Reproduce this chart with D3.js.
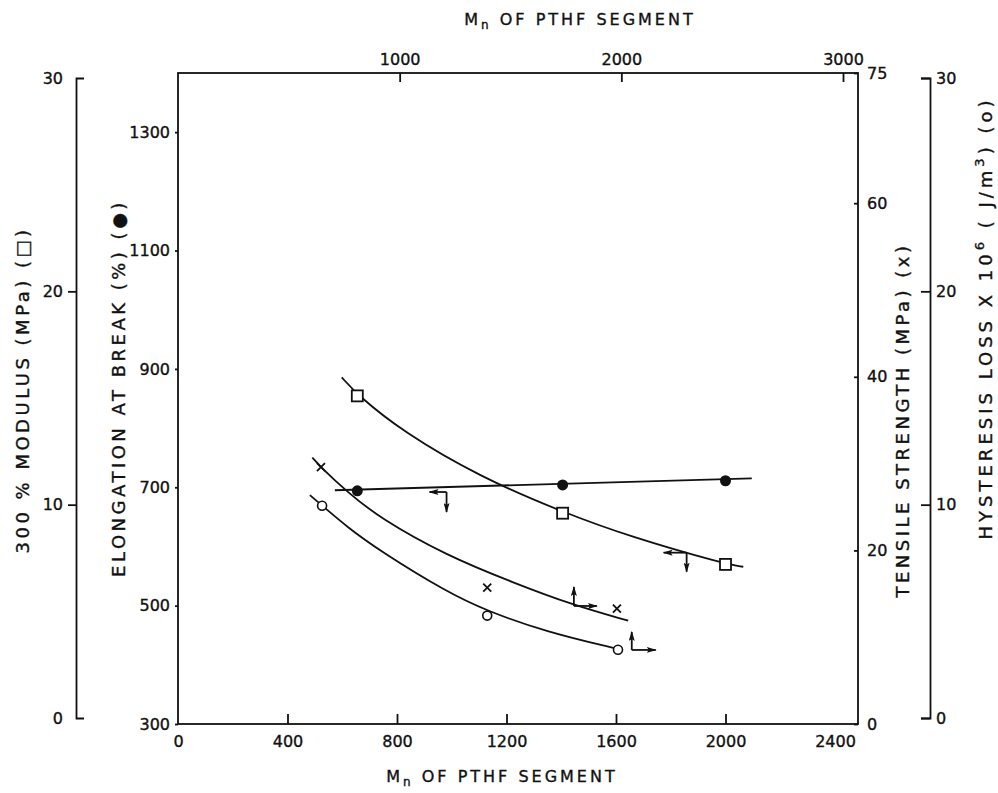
<!DOCTYPE html>
<html>
<head>
<meta charset="utf-8">
<script src="https://cdn.jsdelivr.net/npm/d3@7"></script>
<style>
body { margin: 0; background: #fff; }
text { font-family: "DejaVu Sans", sans-serif; fill: #111; stroke: #111; stroke-width: 0.35; }
</style>
</head>
<body>
<div id="chart"></div>
<script>
// --- data ---
// bottom axis Mn: modulus (square) and elongation (dot)
const mnBottom = [655, 1405, 2000];
const modulus = [15.1, 9.6, 7.2];
const elongation = [694, 704, 711];
// top axis Mn: tensile (x) and hysteresis (o)
const mnTensile = [645, 1395, 1980];
const tensile = [29.6, 15.7, 13.3];
const mnHyst = [650, 1395, 1985];
const hysteresis = [9.95, 4.8, 3.2];

// drawn trend curves
const modCurveMn = [598, 656, 822, 1103, 1407, 1651, 1998, 2065];
const modCurve = [15.97, 15.14, 13.41, 11.30, 9.64, 8.50, 7.22, 7.09];
const elongLineMn = [573, 2096];
const elongLine = [695, 715];
const tenCurveMn = [606, 644, 761, 911, 1212, 1511, 1782, 2031];
const tenCurve = [30.7, 29.6, 26.8, 23.7, 19.4, 16.3, 13.7, 11.9];
const hystCurveMn = [595, 651, 761, 911, 1212, 1393, 1663, 1986];
const hystCurve = [10.45, 9.95, 8.97, 7.83, 5.91, 5.02, 4.03, 3.23];

// axis-pointer arrows (anchor on each curve)
const arrowMn = [981, 1858, 1786, 2047];
const arrowVal = [692, 7.75, 13.6, 3.19];

// tick values
const bottomTicks = [0, 400, 800, 1200, 1600, 2000, 2400];
const topTicks = [1000, 2000, 3000];
const elongTicks = [300, 500, 700, 900, 1100, 1300];
const tensileTicks = [0, 20, 40, 60, 75];
const sideTicks = [0, 10, 20, 30];

const width = 998, height = 793;
const frame = {left: 178, right: 858, top: 73, bottom: 724};

const svg = d3.select("#chart").append("svg")
  .attr("width", width)
  .attr("height", height);

const xBottom = d3.scaleLinear().domain([0, 2400]).range([frame.left, 835]);
const xTop = d3.scaleLinear().domain([0, 3000]).range([frame.left, 843]);
const yMod = d3.scaleLinear().domain([0, 30]).range([718, 78]);
const yElong = d3.scaleLinear().domain([300, 1400]).range([frame.bottom, frame.top]);
const yTen = d3.scaleLinear().domain([0, 75]).range([frame.bottom, frame.top]);
const yHyst = d3.scaleLinear().domain([0, 30]).range([718, 78]);

const sw = 1.8;
const tickFont = 16;

// frame
svg.append("rect")
  .attr("x", frame.left).attr("y", frame.top)
  .attr("width", frame.right - frame.left)
  .attr("height", frame.bottom - frame.top)
  .attr("fill", "none").attr("stroke", "#111").attr("stroke-width", sw);

function styleAxis(g) {
  g.select(".domain").remove();
  g.selectAll(".tick line").attr("stroke", "#111").attr("stroke-width", sw);
  g.selectAll(".tick text").attr("font-size", tickFont).attr("fill", "#111");
}

// bottom axis
const gB = svg.append("g")
  .attr("transform", `translate(0,${frame.bottom})`)
  .call(d3.axisBottom(xBottom).tickValues(bottomTicks).tickSizeInner(-10).tickPadding(12).tickFormat(d3.format("d")));
styleAxis(gB);
gB.selectAll(".tick").filter(d => d === 0 || d === 2400).select("line").remove();

// top axis
const gT = svg.append("g")
  .attr("transform", `translate(0,${frame.top})`)
  .call(d3.axisTop(xTop).tickValues(topTicks).tickSizeInner(-9).tickPadding(8).tickFormat(d3.format("d")));
styleAxis(gT);

// elongation axis (frame left)
const gE = svg.append("g")
  .attr("transform", `translate(${frame.left},0)`)
  .call(d3.axisLeft(yElong).tickValues(elongTicks).tickSizeInner(3).tickPadding(5).tickFormat(d3.format("d")));
styleAxis(gE);

// tensile axis (frame right)
const gTen = svg.append("g")
  .attr("transform", `translate(${frame.right},0)`)
  .call(d3.axisRight(yTen).tickValues(tensileTicks).tickSizeInner(-4).tickPadding(9));
styleAxis(gTen);

// modulus axis (outer left)
const gM = svg.append("g")
  .attr("transform", "translate(76,0)")
  .call(d3.axisLeft(yMod).tickValues(sideTicks).tickSizeInner(8).tickSizeOuter(-8).tickPadding(5));
gM.select(".domain").attr("stroke", "#111").attr("stroke-width", sw);
gM.selectAll(".tick line").attr("stroke", "#111").attr("stroke-width", sw);
gM.selectAll(".tick").filter(d => d === 0 || d === 30).select("line").remove();
gM.selectAll(".tick text").attr("font-size", tickFont).attr("fill", "#111");

// hysteresis axis (outer right)
const gH = svg.append("g")
  .attr("transform", "translate(930,0)")
  .call(d3.axisRight(yHyst).tickValues(sideTicks).tickSizeInner(-9).tickSizeOuter(-9).tickPadding(6));
gH.select(".domain").attr("stroke", "#111").attr("stroke-width", sw);
gH.selectAll(".tick line").attr("stroke", "#111").attr("stroke-width", sw);
gH.selectAll(".tick text").attr("font-size", tickFont).attr("fill", "#111");

// curves
function drawCurve(xs, ys, xScale, yScale) {
  const pts = xs.map((x, i) => [xScale(x), yScale(ys[i])]);
  svg.append("path")
    .attr("d", d3.line().curve(d3.curveBasis)(pts))
    .attr("fill", "none").attr("stroke", "#111").attr("stroke-width", sw);
}
drawCurve(modCurveMn, modCurve, xBottom, yMod);
drawCurve(elongLineMn, elongLine, xBottom, yElong);
drawCurve(tenCurveMn, tenCurve, xTop, yTen);
drawCurve(hystCurveMn, hystCurve, xTop, yHyst);

// markers
svg.selectAll(".sq").data(mnBottom).enter().append("rect")
  .attr("x", (d) => xBottom(d) - 5.5).attr("y", (d, i) => yMod(modulus[i]) - 5.5)
  .attr("width", 11).attr("height", 11)
  .attr("fill", "#fff").attr("stroke", "#111").attr("stroke-width", sw);

svg.selectAll(".dot").data(mnBottom).enter().append("circle")
  .attr("cx", (d) => xBottom(d)).attr("cy", (d, i) => yElong(elongation[i]))
  .attr("r", 5.5).attr("fill", "#111");

svg.selectAll(".ring").data(mnHyst).enter().append("circle")
  .attr("cx", (d) => xTop(d)).attr("cy", (d, i) => yHyst(hysteresis[i]))
  .attr("r", 4.5).attr("fill", "#fff").attr("stroke", "#111").attr("stroke-width", 1.6);

mnTensile.forEach((d, i) => {
  const cx = xTop(d), cy = yTen(tensile[i]);
  svg.append("path")
    .attr("d", `M${cx - 4},${cy - 4}L${cx + 4},${cy + 4}M${cx + 4},${cy - 4}L${cx - 4},${cy + 4}`)
    .attr("stroke", "#111").attr("stroke-width", 1.8);
});

// arrows that point at the axes each curve belongs to
svg.append("defs").append("marker")
  .attr("id", "head")
  .attr("viewBox", "0 0 10 6")
  .attr("refX", 9).attr("refY", 3)
  .attr("markerWidth", 10).attr("markerHeight", 6)
  .attr("markerUnits", "userSpaceOnUse")
  .attr("orient", "auto")
  .append("path").attr("d", "M0,0L10,3L0,6L2,3Z").attr("fill", "#111");

const arrowSpec = [
  {x: xBottom, y: yElong, dirs: [[-17, 0], [0, 20]]},
  {x: xBottom, y: yMod, dirs: [[-23, 0], [0, 19]]},
  {x: xTop, y: yTen, dirs: [[0, -19], [23, 0]]},
  {x: xTop, y: yHyst, dirs: [[0, -18], [24, 0]]}
];
arrowSpec.forEach((a, i) => {
  const ax = a.x(arrowMn[i]), ay = a.y(arrowVal[i]);
  a.dirs.forEach(([dx, dy]) => {
    svg.append("line")
      .attr("x1", ax).attr("y1", ay)
      .attr("x2", ax + dx).attr("y2", ay + dy)
      .attr("stroke", "#111").attr("stroke-width", sw)
      .attr("marker-end", "url(#head)");
  });
});

// axis titles
const titleFont = 18, titleSpacing = 3.5;
function mnTitle(x, y) {
  const t = svg.append("text")
    .attr("x", x).attr("y", y)
    .attr("text-anchor", "middle")
    .attr("font-size", 16)
    .attr("letter-spacing", 3);
  t.append("tspan").text("M");
  t.append("tspan").attr("font-size", 12).attr("dy", 4).text("n");
  t.append("tspan").attr("dy", -4).text("  OF  PTHF  SEGMENT");
}
mnTitle(580, 25);
mnTitle(502, 782);

function sideTitle(x, y, str) {
  return svg.append("text")
    .attr("transform", `translate(${x},${y}) rotate(-90)`)
    .attr("text-anchor", "middle")
    .attr("dominant-baseline", "central")
    .attr("font-size", titleFont)
    .attr("letter-spacing", titleSpacing)
    .text(str);
}
sideTitle(22, 390, "300 % MODULUS (MPa) (\u25A1)");
sideTitle(118, 388, "ELONGATION AT BREAK (%) (\u25CF)");
sideTitle(902, 420, "TENSILE STRENGTH (MPa) (x)");

const hy = svg.append("text")
  .attr("transform", "translate(985,318) rotate(-90)")
  .attr("text-anchor", "middle")
  .attr("dominant-baseline", "central")
  .attr("font-size", titleFont)
  .attr("letter-spacing", titleSpacing + 0.5);
hy.append("tspan").text("HYSTERESIS  LOSS X 10");
hy.append("tspan").attr("font-size", 13).attr("dy", -6).text("6");
hy.append("tspan").attr("dy", 6).text(" ( J/m");
hy.append("tspan").attr("font-size", 13).attr("dy", -6).text("3");
hy.append("tspan").attr("dy", 6).text(") (o)");
</script>
</body>
</html>
